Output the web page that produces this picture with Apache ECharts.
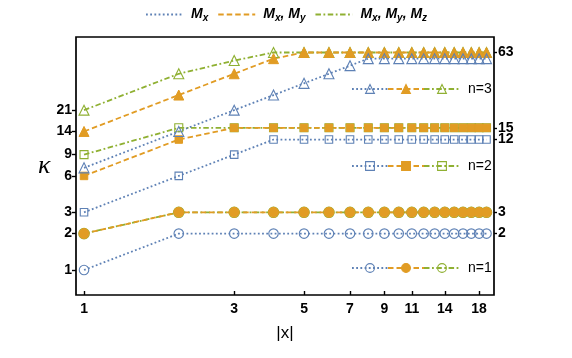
<!DOCTYPE html>
<html>
<head>
<meta charset="utf-8">
<script src="https://cdn.jsdelivr.net/npm/echarts@6/dist/echarts.min.js"></script>
<style>
  html, body { margin: 0; padding: 0; background: #fff; }
  #chart { width: 572px; height: 358px; }
</style>
</head>
<body>
<div id="chart"></div>
<script>
// |x| values
const xs = [1, 2, 3, 4, 5, 6, 7, 8, 9, 10, 11, 12, 13, 14, 15, 16, 17, 18, 19]

// kappa, n=1
const n1Mx = [1, 2, 2, 2, 2, 2, 2, 2, 2, 2, 2, 2, 2, 2, 2, 2, 2, 2, 2]
const n1MxMy = [2, 3, 3, 3, 3, 3, 3, 3, 3, 3, 3, 3, 3, 3, 3, 3, 3, 3, 3]
const n1MxMyMz = [2, 3, 3, 3, 3, 3, 3, 3, 3, 3, 3, 3, 3, 3, 3, 3, 3, 3, 3]
// n=2
const n2Mx = [3, 6, 9, 12, 12, 12, 12, 12, 12, 12, 12, 12, 12, 12, 12, 12, 12, 12, 12]
const n2MxMy = [6, 12, 15, 15, 15, 15, 15, 15, 15, 15, 15, 15, 15, 15, 15, 15, 15, 15, 15]
const n2MxMyMz = [9, 15, 15, 15, 15, 15, 15, 15, 15, 15, 15, 15, 15, 15, 15, 15, 15, 15, 15]
// n=3
const n3Mx = [7, 14, 21, 28, 35, 42, 49, 56, 56, 56, 56, 56, 56, 56, 56, 56, 56, 56, 56]
const n3MxMy = [14, 28, 42, 56, 63, 63, 63, 63, 63, 63, 63, 63, 63, 63, 63, 63, 63, 63, 63]
const n3MxMyMz = [21, 42, 54, 63, 63, 63, 63, 63, 63, 63, 63, 63, 63, 63, 63, 63, 63, 63, 63]

const xTicks = [1, 3, 5, 7, 9, 11, 14, 18]
const yTicksLeft = [1, 2, 3, 6, 9, 14, 21]
const yTicksRight = [2, 3, 12, 15, 63]

const BLUE = '#5E81B5'
const ORANGE = '#E19C24'
const GREEN = '#8FB032'
const FONT = '"Liberation Sans", Arial, sans-serif'

const LW = 1.8
const DOT = [1.8, 2.4]
const DASH = [5.5, 3]
const DASHDOT = [5.5, 2.5, 1.8, 2.5]

const pairs = (ys) => xs.map((x, i) => [x, ys[i]])

// open marker: transparent fill, thin outline
const mk = (name, ys, color, dash, symbol, size, filled) => ({
  name,
  type: 'line',
  data: pairs(ys),
  symbol,
  symbolSize: size,
  showAllSymbol: true,
  lineStyle: { color, width: LW, type: dash },
  itemStyle: filled
    ? { color, borderColor: color, borderWidth: 1 }
    : { color: 'rgba(255,255,255,0)', borderColor: color, borderWidth: 1.1 },
  emphasis: { disabled: true },
  animation: false,
})

const series = [
  // top legend only
  { name: 'Mx', type: 'line', data: [], lineStyle: { color: BLUE, width: LW, type: DOT }, itemStyle: { color: BLUE } },
  { name: 'MxMy', type: 'line', data: [], lineStyle: { color: ORANGE, width: LW, type: DASH }, itemStyle: { color: ORANGE } },
  { name: 'MxMyMz', type: 'line', data: [], lineStyle: { color: GREEN, width: LW, type: DASHDOT }, itemStyle: { color: GREEN } },

  mk('n1c', n1MxMyMz, GREEN, DASHDOT, 'circle', 10.5, false),
  mk('n1b', n1MxMy, ORANGE, DASH, 'circle', 10, true),
  mk('n1a', n1Mx, BLUE, DOT, 'circle', 9.5, false),
  mk('n2c', n2MxMyMz, GREEN, DASHDOT, 'rect', 8, false),
  mk('n2b', n2MxMy, ORANGE, DASH, 'rect', 7.5, true),
  mk('n2a', n2Mx, BLUE, DOT, 'rect', 7.5, false),
  mk('n3c', n3MxMyMz, GREEN, DASHDOT, 'triangle', 10, false),
  mk('n3b', n3MxMy, ORANGE, DASH, 'triangle', 10, true),
  mk('n3a', n3Mx, BLUE, DOT, 'triangle', 10, false),
]

const sub = { fontSize: 10, fontWeight: 'bold', fontStyle: 'italic', fontFamily: FONT, color: '#000', verticalAlign: 'bottom', lineHeight: 12, padding: [7, 0, 0, 0] }
const big = { fontSize: 14, fontWeight: 'bold', fontStyle: 'italic', fontFamily: FONT, color: '#000', lineHeight: 17 }
const topLabels = {
  Mx: '{m|M}{s|x}',
  MxMy: '{m|M}{s|x}{m|, M}{s|y}',
  MxMyMz: '{m|M}{s|x}{m|, M}{s|y}{m|, M}{s|z}',
}

const insetLegend = (n, top) => ({
  data: ['n' + n + 'a', 'n' + n + 'b', 'n' + n + 'c'],
  left: 351,
  top,
  padding: 0,
  orient: 'horizontal',
  itemWidth: 36,
  itemHeight: 11,
  itemGap: -2,
  selectedMode: false,
  itemStyle: { borderWidth: 1.1 },
  formatter: (name) => (name.endsWith('c') ? 'n=' + n : ''),
  textStyle: { fontSize: 14, fontFamily: FONT, color: '#000', padding: [0, 0, 0, 3] },
})

const option = {
  backgroundColor: '#fff',
  animation: false,
  grid: {
    left: 76, right: 78, top: 37, bottom: 63,
    show: true, borderColor: '#000', borderWidth: 1.7,
  },
  legend: [
    {
      data: [
        { name: 'Mx', itemStyle: { opacity: 0 } },
        { name: 'MxMy', itemStyle: { opacity: 0 } },
        { name: 'MxMyMz', itemStyle: { opacity: 0 } },
      ],
      left: 145,
      top: 6,
      padding: 0,
      itemWidth: 37,
      itemHeight: 10,
      itemGap: 9,
      selectedMode: false,
      formatter: (name) => topLabels[name],
      textStyle: { color: '#000', padding: [0, 0, 0, 3], rich: { m: big, s: sub } },
    },
    insetLegend(3, 82),
    insetLegend(2, 159),
    insetLegend(1, 261),
  ],
  xAxis: {
    type: 'log',
    min: 0.943,
    max: 20.07,
    name: '|x|',
    nameLocation: 'middle',
    nameGap: 30,
    nameTextStyle: { fontSize: 17, fontFamily: FONT, color: '#000' },
    axisLine: { show: false },
    axisTick: { show: true, inside: true, length: 4, customValues: xTicks, lineStyle: { color: '#000', width: 1.4 } },
    axisLabel: { customValues: xTicks, fontSize: 14, fontWeight: 'bold', fontFamily: FONT, color: '#000', margin: 7 },
    splitLine: { show: false },
    minorTick: { show: false },
  },
  yAxis: [
    {
      type: 'log',
      min: 0.621,
      max: 84.6,
      position: 'left',
      name: 'κ',
      nameLocation: 'middle',
      nameRotate: 0,
      nameGap: 23,
      nameTextStyle: { fontSize: 26, fontStyle: 'italic', fontFamily: '"Liberation Serif", "DejaVu Serif", serif', color: '#000' },
      axisLine: { show: false },
      axisTick: { show: true, inside: false, length: 4, customValues: yTicksLeft, lineStyle: { color: '#000', width: 1.4 } },
      axisLabel: { customValues: yTicksLeft, fontSize: 14, fontWeight: 'bold', fontFamily: FONT, color: '#000', margin: 4 },
      splitLine: { show: false },
    },
    {
      type: 'log',
      min: 0.621,
      max: 84.6,
      position: 'right',
      axisLine: { show: false },
      axisTick: { show: true, inside: false, length: 3, customValues: yTicksRight, lineStyle: { color: '#000', width: 1.4 } },
      axisLabel: { customValues: yTicksRight, fontSize: 14, fontWeight: 'bold', fontFamily: FONT, color: '#000', margin: 4 },
      splitLine: { show: false },
    },
  ],
  series,
}

const chart = echarts.init(document.getElementById('chart'), null, { renderer: 'canvas', devicePixelRatio: 1 })
chart.setOption(option)
</script>
</body>
</html>
